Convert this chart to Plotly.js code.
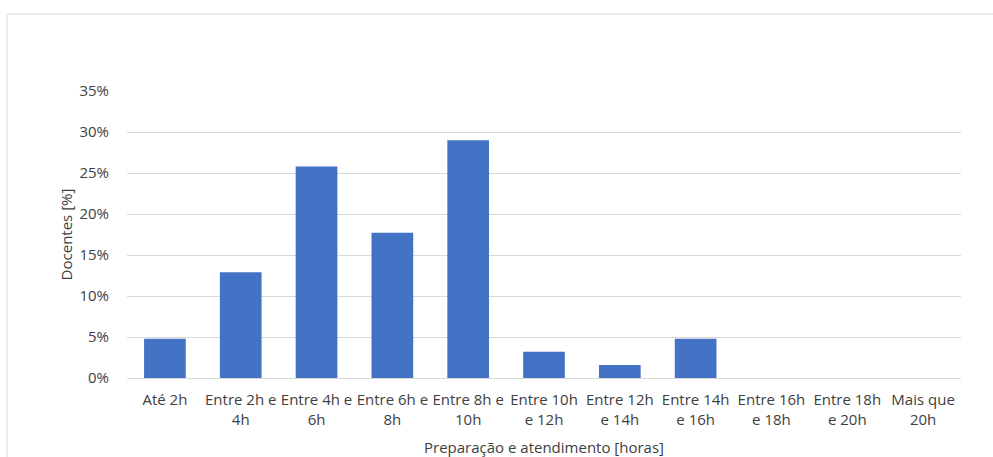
<!DOCTYPE html>
<html><head><meta charset="utf-8">
<script src="https://cdn.plot.ly/plotly-3.0.1.min.js"></script>
<style>html,body{margin:0;padding:0;background:#fff}#chart{width:993px;height:457px}</style>
</head><body><div id="chart"></div>
<script>
const categories = ["Até 2h","Entre 2h e<br>4h","Entre 4h e<br>6h","Entre 6h e<br>8h","Entre 8h e<br>10h","Entre 10h<br>e 12h","Entre 12h<br>e 14h","Entre 14h<br>e 16h","Entre 16h<br>e 18h","Entre 18h<br>e 20h","Mais que<br>20h"];
const docentes = [0.048, 0.129, 0.258, 0.177, 0.290, 0.032, 0.016, 0.048, 0, 0, 0];
const yTitle = "Docentes [%]";
const xTitle = "Preparação e atendimento [horas]";

const font = "'Open Sans', 'Noto Sans', sans-serif";
const L = 127, R = 961, T = 91, B = 378, W = 993, H = 457;
const px = x => (x - L) / (R - L);
const py = y => (B - y) / (B - T);

Plotly.newPlot('chart', [{
  type: 'bar', x: categories, y: docentes,
  marker: {color: '#4472c4'}, hoverinfo: 'x+y'
}], {
  width: W, height: H,
  margin: {l: L, r: W - R, t: T, b: H - B, pad: 0},
  paper_bgcolor: '#fff', plot_bgcolor: '#fff',
  font: {family: font, size: 15, color: '#404040'},
  bargap: 0.45,
  showlegend: false,
  xaxis: {
    type: 'category', showgrid: false, zeroline: false,
    showline: true, linecolor: '#d9d9d9', linewidth: 1,
    ticks: '', ticklabelstandoff: 8,
    tickfont: {size: 15, color: '#404040'},
    title: {text: xTitle, font: {size: 15, color: '#404040'}, standoff: 14},
    automargin: false
  },
  yaxis: {
    range: [0, 0.35], dtick: 0.05, tickformat: '.0%',
    showgrid: true, gridcolor: '#d9d9d9', gridwidth: 1,
    zeroline: false, showline: false, ticks: '',
    ticklabelstandoff: 17,
    tickfont: {size: 15, color: '#404040'},
    title: {text: yTitle, font: {size: 15, color: '#404040'}, standoff: 3},
    automargin: false
  },
  shapes: [{
    type: 'rect', xref: 'paper', yref: 'paper', layer: 'below',
    x0: px(7), x1: px(1010), y0: py(14), y1: py(480),
    line: {color: '#d9d9d9', width: 1}, fillcolor: 'rgba(0,0,0,0)'
  }]
}, {displayModeBar: false, staticPlot: true});
</script></body></html>
